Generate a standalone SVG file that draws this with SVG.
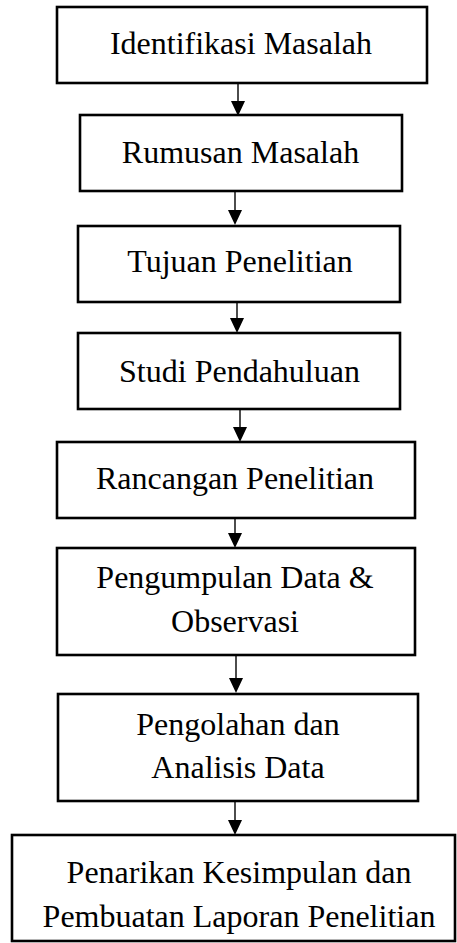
<svg xmlns="http://www.w3.org/2000/svg" width="457" height="943" viewBox="0 0 457 943">
  <style>
    .box { fill: #ffffff; stroke: #000000; stroke-width: 2.6; }
    .lbl { font-family: "Liberation Serif", "Times New Roman", serif; font-size: 32px; fill: #000000; text-anchor: middle; }
    .link { stroke: #000000; stroke-width: 1.4; fill: none; }
    .head { fill: #000000; }
  </style>
  <rect width="457" height="943" fill="#ffffff"/>

  <!-- connectors: shaft plus a filled triangular head ending on the next box -->
  <g id="connectors">
    <line class="link" x1="238" y1="83" x2="238" y2="102"/>
    <polygon class="head" points="231,101 245,101 238,116"/>
    <line class="link" x1="235" y1="191" x2="235" y2="211"/>
    <polygon class="head" points="228,210 242,210 235,225"/>
    <line class="link" x1="237" y1="302" x2="237" y2="319"/>
    <polygon class="head" points="230,318 244,318 237,333"/>
    <line class="link" x1="240" y1="409" x2="240" y2="428"/>
    <polygon class="head" points="233,427 247,427 240,442"/>
    <line class="link" x1="235" y1="514" x2="235" y2="534"/>
    <polygon class="head" points="228,533 242,533 235,548"/>
    <line class="link" x1="236" y1="655" x2="236" y2="679"/>
    <polygon class="head" points="229,678 243,678 236,693"/>
    <line class="link" x1="235" y1="801" x2="235" y2="821"/>
    <polygon class="head" points="228,820 242,820 235,835"/>
  </g>

  <g id="identifikasi">
    <rect class="box" x="57" y="7" width="370" height="76"/>
    <text class="lbl" x="241" y="54">Identifikasi Masalah</text>
  </g>
  <g id="rumusan">
    <rect class="box" x="80" y="115" width="322" height="76"/>
    <text class="lbl" x="240.5" y="163">Rumusan Masalah</text>
  </g>
  <g id="tujuan">
    <rect class="box" x="78" y="226" width="322" height="76"/>
    <text class="lbl" x="240" y="272">Tujuan Penelitian</text>
  </g>
  <g id="studi">
    <rect class="box" x="78" y="333" width="322" height="76"/>
    <text class="lbl" x="239.5" y="382">Studi Pendahuluan</text>
  </g>
  <g id="rancangan">
    <rect class="box" x="57" y="442" width="358" height="76"/>
    <text class="lbl" x="235" y="489">Rancangan Penelitian</text>
  </g>
  <g id="pengumpulan">
    <rect class="box" x="57" y="548" width="358" height="107"/>
    <text class="lbl" x="235" y="588">Pengumpulan Data &amp;</text>
    <text class="lbl" x="235" y="632">Observasi</text>
  </g>
  <g id="pengolahan">
    <rect class="box" x="58" y="694" width="360" height="107"/>
    <text class="lbl" x="238" y="735">Pengolahan dan</text>
    <text class="lbl" x="238" y="778">Analisis Data</text>
  </g>
  <g id="penarikan">
    <rect class="box" x="12" y="835" width="443" height="106"/>
    <text class="lbl" x="239" y="883">Penarikan Kesimpulan dan</text>
    <text class="lbl" x="239" y="927">Pembuatan Laporan Penelitian</text>
  </g>
</svg>
